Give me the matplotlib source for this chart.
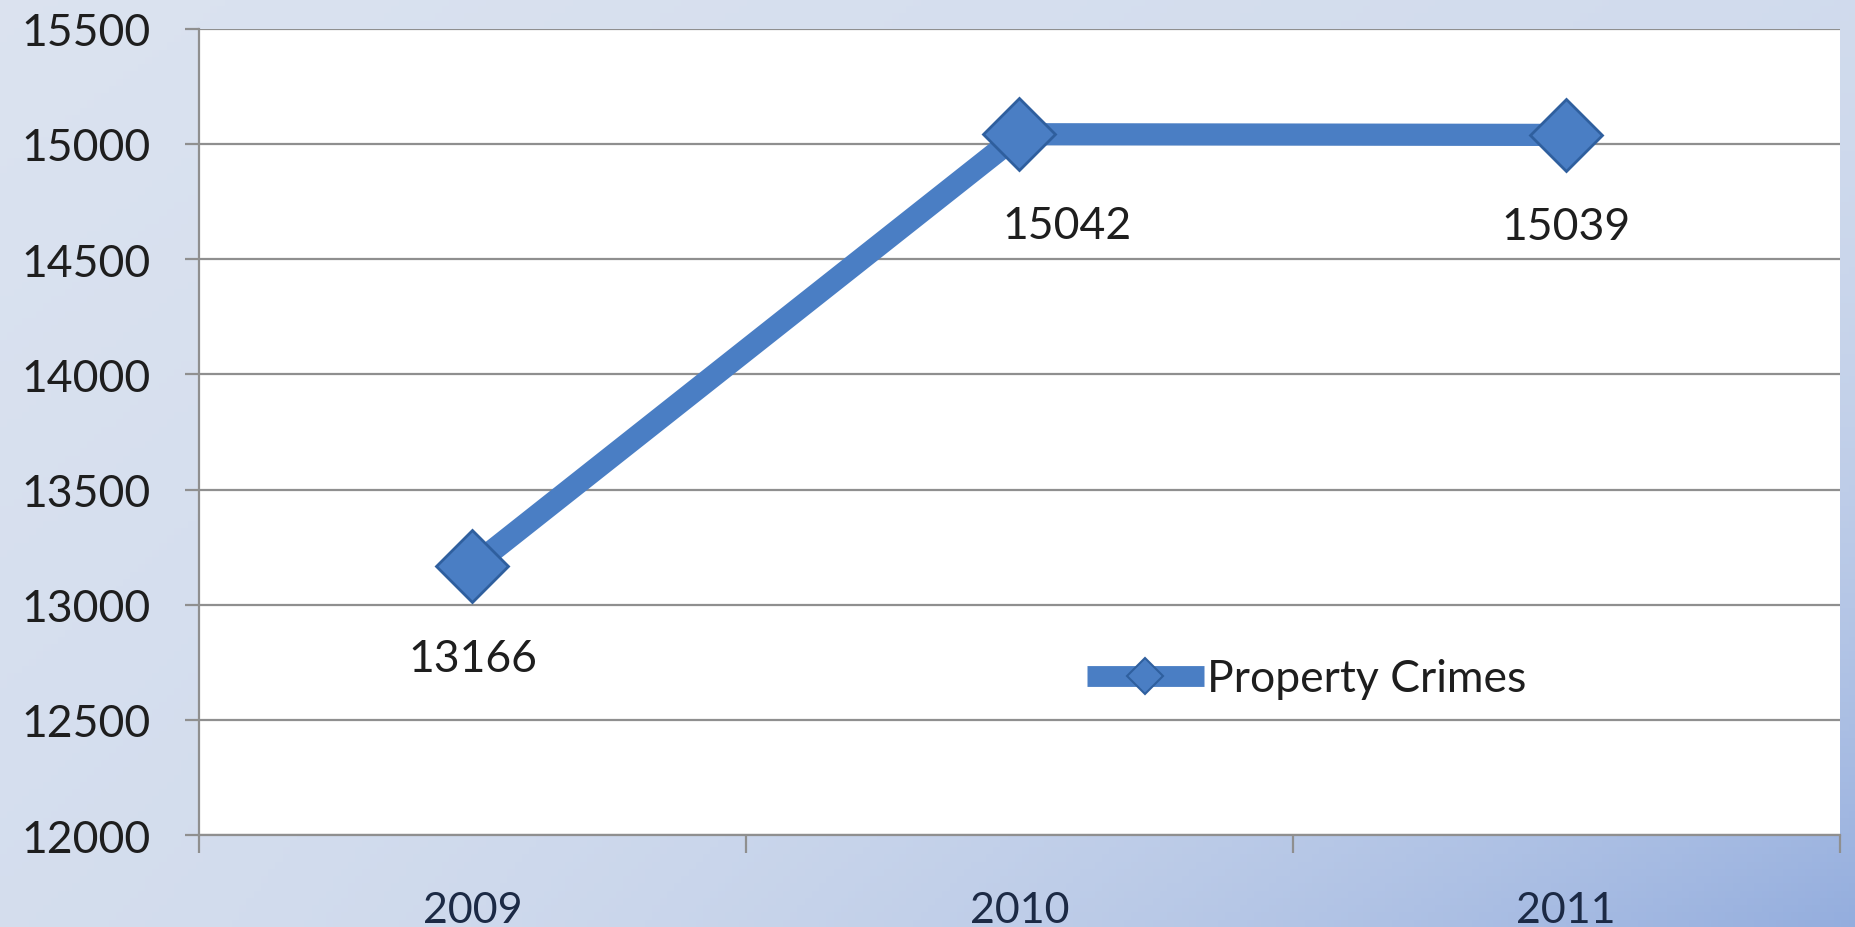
import numpy as np
import matplotlib
matplotlib.use("Agg")
import matplotlib.pyplot as plt
from matplotlib.lines import Line2D

plt.rcParams["font.family"] = ["Lato", "DejaVu Sans"]

years = ["2009", "2010", "2011"]
crimes = [13166, 15042, 15039]
y_ticks = [12000, 12500, 13000, 13500, 14000, 14500, 15000, 15500]
series_name = "Property Crimes"

line_color = "#4a7ec4"
edge_color = "#2f5f9e"
grid_color = "#8f8f8f"
text_color = "#1e1e1e"

fig = plt.figure(figsize=(18.56, 9.28), dpi=100)

# background gradient, light grey-blue to deeper blue at bottom right
bg = fig.add_axes([0, 0, 1, 1], zorder=-10)
gx, gy = np.meshgrid(np.linspace(0, 1, 256), np.linspace(0, 1, 128))
t = np.clip(0.15 * gx + 0.1 * gy + 0.75 * (gx * gy) ** 2, 0, 1)
light = np.array([0.86, 0.89, 0.94])
deep = np.array([0.58, 0.68, 0.87])
img = light[None, None, :] * (1 - t[..., None]) + deep[None, None, :] * t[..., None]
bg.imshow(img, aspect="auto", extent=[0, 1, 1, 0])
bg.axis("off")

ax = fig.add_axes([0.1072, 0.099, 0.884, 0.869])
ax.set_facecolor("white")

x = np.arange(len(years))
ax.plot(x, crimes, color=line_color, lw=16, marker="D", ms=37,
        mfc=line_color, mec=edge_color, mew=2, solid_capstyle="butt", zorder=3)

# data labels below each point
offsets = [(0, -66), (34, -66), (0, -66)]
for xi, v, (dx, dy) in zip(x, crimes, offsets):
    ax.annotate(str(v), (xi, v), xytext=(dx, dy), textcoords="offset points",
                ha="center", va="center", fontsize=32, color=text_color)

ax.set_xlim(-0.5, 2.5)
ax.set_ylim(12000, 15500)
ax.set_yticks(y_ticks)
ax.set_yticklabels([str(v) for v in y_ticks])
ax.set_xticks(x)
ax.set_xticklabels(years)
ax.set_xticks([-0.5, 0.5, 1.5, 2.5], minor=True)

ax.grid(axis="y", color=grid_color, lw=1.6)
ax.set_axisbelow(True)
for side in ["top", "right"]:
    ax.spines[side].set_visible(False)
for side in ["left", "bottom"]:
    ax.spines[side].set_color(grid_color)
    ax.spines[side].set_linewidth(1.6)

ax.tick_params(axis="y", length=10, width=1.6, color=grid_color, pad=25,
               labelsize=32, labelcolor=text_color)
ax.tick_params(axis="x", which="major", length=0, pad=40,
               labelsize=31, labelcolor="#1c2a45")
ax.tick_params(axis="x", which="minor", length=13, width=1.6, color=grid_color)

handle = Line2D([], [], color=line_color, lw=15, marker="D", ms=18,
                mfc=line_color, mec=edge_color, mew=1.5, solid_capstyle="butt")
ax.legend([handle], [series_name], loc="center left",
          bbox_to_anchor=(0.541, 0.194), frameon=False, fontsize=32,
          borderpad=0, borderaxespad=0,
          handlelength=2.65, handletextpad=0.05, labelcolor=text_color)

fig.savefig("out.png", dpi=100)
